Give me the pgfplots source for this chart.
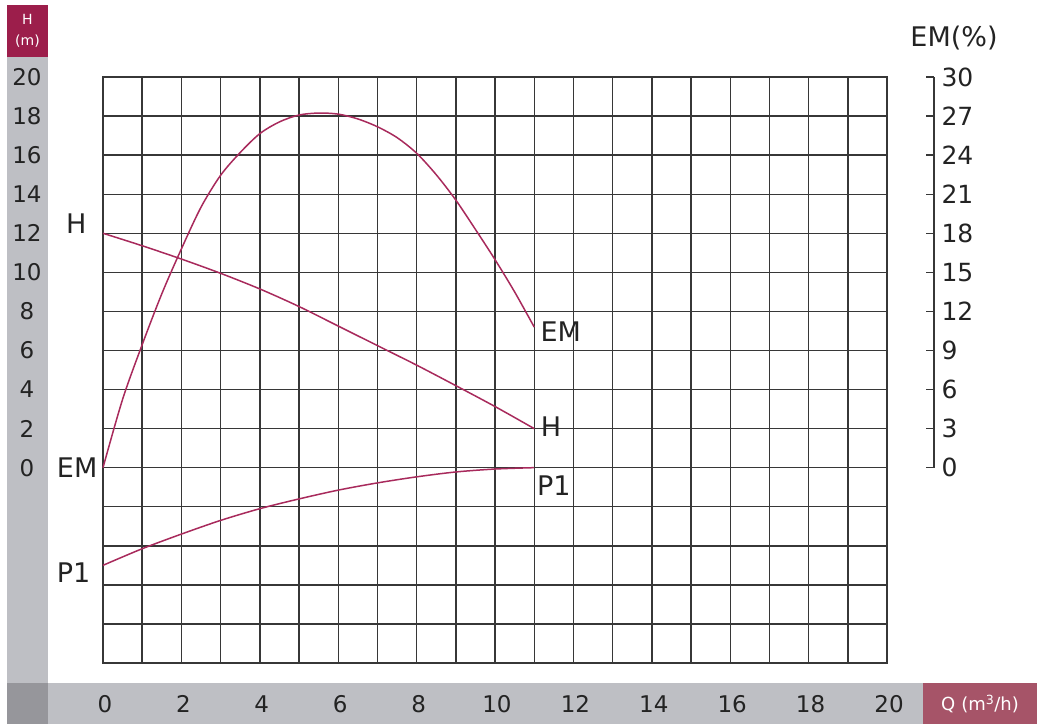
\documentclass[border=0pt]{standalone}
\usepackage{pgfplots}
\pgfplotsset{compat=1.18}
\usepackage{fontspec}
\setmainfont{DejaVu Sans}
\definecolor{curve}{RGB}{168,42,92}
\definecolor{gridc}{RGB}{55,55,55}
\definecolor{barg}{RGB}{190,191,196}
\definecolor{darkg}{RGB}{150,150,155}
\definecolor{hbox}{RGB}{156,30,75}
\definecolor{qbox}{RGB}{166,84,104}
\definecolor{txt}{RGB}{35,35,35}

\begin{document}
\begin{tikzpicture}
\useasboundingbox (0pt,0pt) rectangle (1037pt,724pt);
% frame bands
\fill[barg] (7pt,41pt) rectangle (48pt,666.7pt);
\fill[hbox] (7pt,666.7pt) rectangle (48pt,719pt);
\fill[barg] (7pt,0pt) rectangle (1037pt,41pt);
\fill[darkg] (7pt,0pt) rectangle (48pt,41pt);
\fill[qbox] (923pt,0pt) rectangle (1037pt,41pt);
\node[white,font=\fontsize{14}{21}\selectfont,align=center] at (27.5pt,693pt) {H\\(m)};
\node[white,font=\fontsize{18}{20}\selectfont] at (980pt,20pt) {Q\,\,(m\textsuperscript{3}/h)};
\node[txt,font=\fontsize{27}{30}\selectfont] at (954pt,686pt) {EM(\%)};

\begin{axis}[
    at={(103pt,61pt)}, anchor=south west,
    scale only axis, width=784pt, height=586pt,
    xmin=0, xmax=20, ymin=-10, ymax=20,
    xtick={0,2,...,20}, minor xtick={1,3,...,19},
    ytick={0,2,...,20}, minor ytick={-10,-8,...,-2},
    grid=both,
    major grid style={line width=1.4pt, draw=gridc},
    minor grid style={line width=1.4pt, draw=gridc},
    axis line style={line width=1.4pt, draw=gridc},
    major tick length=0pt, minor tick length=0pt,
    /pgf/number format/assume math mode=true,
    xticklabel style={anchor=center, yshift=-41pt, xshift=2pt, text=txt, font=\fontsize{23}{25}\selectfont},
    yticklabel style={anchor=center, xshift=-76pt, text=txt, font=\fontsize{23}{25}\selectfont},
    clip=false,
]
\addplot[curve, line width=1.5pt, smooth] coordinates {
    (0,12) (1,11.36) (2,10.68) (3,9.95) (4,9.15) (5,8.25) (6,7.25)
    (7,6.25) (8,5.25) (9,4.2) (10,3.13) (11,2.0)
};
\addplot[curve, line width=1.5pt, smooth] coordinates {
    (0,-5.0) (1,-4.15) (2,-3.4) (3,-2.7) (4,-2.1) (5,-1.6) (6,-1.15)
    (7,-0.78) (8,-0.47) (9,-0.22) (10,-0.07) (11,0)
};
\node[txt,font=\fontsize{27}{30}\selectfont] at (axis cs:-0.68,12.5) {H};
\node[txt,font=\fontsize{27}{30}\selectfont] at (axis cs:-0.66,0.0) {EM};
\node[txt,font=\fontsize{27}{30}\selectfont] at (axis cs:-0.75,-5.4) {P1};
\node[txt,font=\fontsize{27}{30}\selectfont] at (axis cs:11.68,6.95) {EM};
\node[txt,font=\fontsize{27}{30}\selectfont] at (axis cs:11.43,2.08) {H};
\node[txt,font=\fontsize{27}{30}\selectfont] at (axis cs:11.5,-0.9) {P1};
\end{axis}

\begin{axis}[
    at={(103pt,256.33pt)}, anchor=south west,
    scale only axis, width=831pt, height=390.67pt,
    xmin=0, xmax=21.199, ymin=0, ymax=30,
    axis x line=none, axis y line=right,
    axis line style={-, line width=1.3pt, draw=gridc},
    ytick={0,3,...,30},
    tick align=inside, major tick length=8pt,
    tick style={line width=1.3pt, draw=gridc},
    /pgf/number format/assume math mode=true,
    yticklabel style={text=txt, xshift=4pt, font=\fontsize{25}{27}\selectfont},
    clip=false,
]
\addplot[curve, line width=1.5pt, smooth] coordinates {
    (0,0) (0.5,5.25) (1,9.45) (1.5,13.35) (2,16.8) (2.5,20.0) (3,22.45)
    (3.5,24.2) (4,25.65) (4.5,26.55) (5,27.08) (5.5,27.23) (6,27.15)
    (6.5,26.78) (7,26.18) (7.5,25.35) (8,24.15) (8.5,22.5) (9,20.55)
    (9.5,18.3) (10,15.98) (10.5,13.5) (11,10.8)
};
\end{axis}
\end{tikzpicture}
\end{document}
